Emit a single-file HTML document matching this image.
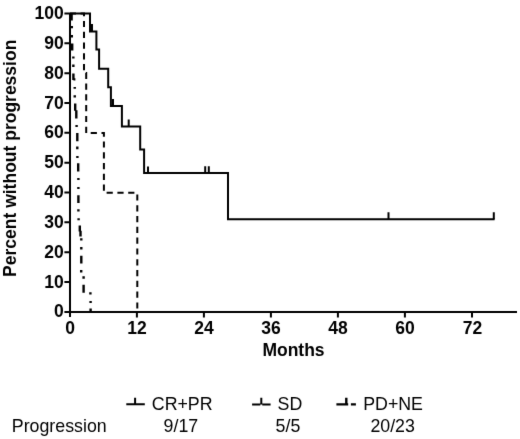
<!DOCTYPE html>
<html>
<head>
<meta charset="utf-8">
<style>
html,body{margin:0;padding:0;background:#fff;}
body{width:520px;height:439px;overflow:hidden;}
svg{display:block;}
svg{will-change:transform;}
text{font-family:"Liberation Sans",sans-serif;fill:#000;}
.b{font-weight:bold;font-size:17.5px;}
.r{font-size:17.8px;}
</style>
</head>
<body>
<svg width="520" height="439" viewBox="0 0 520 439">
<defs><filter id="bl" x="0" y="0" width="100%" height="100%" color-interpolation-filters="sRGB"><feConvolveMatrix order="3" kernelMatrix="0.0064 0.0672 0.0064 0.0672 0.7056 0.0672 0.0064 0.0672 0.0064" divisor="1" edgeMode="duplicate"/></filter></defs><g filter="url(#bl)"><rect width="520" height="439" fill="#fff"/>
<!-- axes -->
<g stroke="#000" stroke-width="2" fill="none">
<path d="M70,13 V317"/>
<path d="M64.4,312 H517"/>
<!-- y ticks -->
<path d="M64.4,13.5 H70 M64.4,43.3 H70 M64.4,73.2 H70 M64.4,103 H70 M64.4,132.8 H70 M64.4,162.7 H70 M64.4,192.5 H70 M64.4,222.3 H70 M64.4,252.2 H70 M64.4,282 H70"/>
<!-- x ticks -->
<path d="M136.9,312 V317.4 M203.9,312 V317.4 M270.9,312 V317.4 M337.9,312 V317.4 M404.9,312 V317.4 M472,312 V317.4"/>
</g>
<!-- y labels -->
<g class="b" text-anchor="end">
<text x="63.7" y="19.1">100</text>
<text x="63.7" y="48.9">90</text>
<text x="63.7" y="78.8">80</text>
<text x="63.7" y="108.6">70</text>
<text x="63.7" y="138.4">60</text>
<text x="63.7" y="168.3">50</text>
<text x="63.7" y="198.1">40</text>
<text x="63.7" y="227.9">30</text>
<text x="63.7" y="257.8">20</text>
<text x="63.7" y="287.6">10</text>
<text x="63.7" y="317.4">0</text>
</g>
<!-- x labels -->
<g class="b" text-anchor="middle">
<text x="70" y="333.6">0</text>
<text x="137" y="333.6">12</text>
<text x="204" y="333.6">24</text>
<text x="271" y="333.6">36</text>
<text x="338" y="333.6">48</text>
<text x="405" y="333.6">60</text>
<text x="472.4" y="333.6">72</text>
</g>
<text class="b" x="293.5" y="356.4" text-anchor="middle">Months</text>
<text class="b" transform="translate(16.4,158.3) rotate(-90)" text-anchor="middle">Percent without progression</text>

<!-- curves -->
<g stroke="#000" stroke-width="2" fill="none" stroke-linejoin="miter">
<!-- CR+PR -->
<path d="M70,13.5 H90 V31.4 H96.4 V49.6 H99.1 V68.8 H108.2 V87.2 H110.9 V106 H121.9 V126.4 H140.2 V149.6 H144.1 V173.1 H228 V219.2 H494.6"/>
<path d="M92,24 V31.4 M113,99 V106 M128.7,119.6 V126.4 M148,166.4 V173.1 M205.2,166.2 V173.1 M208.8,166.2 V173.1 M388.5,212.3 V219.2 M493.8,212.3 V219.2"/>
<!-- SD -->
<path stroke-dasharray="6.2 4.6" stroke-dashoffset="0.2" d="M70,13.5 H84 V73.1 H86.2 V133 H103.9 V192.7 H137.3 V312"/>
<!-- PD+NE -->
<path stroke-width="2.4" d="M71.6,13.5V20.5 M71.8,26.0V28.2 M71.8,35.0V37.4 M72.2,43.5V50.6 M73.35,56.4V58.5 M73.35,64.6V67.0 M73.4,73.4V80.0 M74.75,86.9V88.8 M74.75,95.3V97.4 M75.2,103.5V110.8 M76.3,110.2V118.5 M76.6,124.9V127.1 M77.3,133.1V141.2 M77.3,146.6V149.3 M77.4,155.9V158.0 M78.2,163.3V171.4 M78.4,177.9V179.9 M78.4,186.9V188.9 M78.4,195.3V202.9 M78.4,209.2V211.4 M78.6,218.3V220.3 M79.8,225.4V231.4 M80.5,230.8V236.6 M81.3,238.3V240.4 M81.3,247.1V249.6 M81.3,255.7V263.6 M81.2,270.1V272.6 M83.6,276.3V278.7 M83.6,284.8V292.7 M90.4,292.2V294.4 M90.6,300.9V303.0 M90.6,308.6V312 M73.4,79.4H75.4"/>
</g>

<!-- legend -->
<g stroke="#000" stroke-width="2" fill="none">
<path d="M126.3,404.3 H144.8 M135.1,397.7 V404.3"/>
<path d="M252.1,404.4 H260.3 M262.3,404.4 H270.6 M261.3,397.7 V404.4"/>
<path d="M336.4,404.4 H348.2 M346.3,397.7 V404.4 M350.9,404.4 H355.9" stroke-width="2.4"/>
</g>
<g class="r">
<text x="151.8" y="410.4">CR+PR</text>
<text x="277.6" y="410.4">SD</text>
<text x="363.2" y="410.4">PD+NE</text>
<text x="11.8" y="431.7">Progression</text>
<text x="163.6" y="431.7">9/17</text>
<text x="275.6" y="431.7">5/5</text>
<text x="370.4" y="431.7">20/23</text>
</g>
</g></svg>
</body>
</html>
